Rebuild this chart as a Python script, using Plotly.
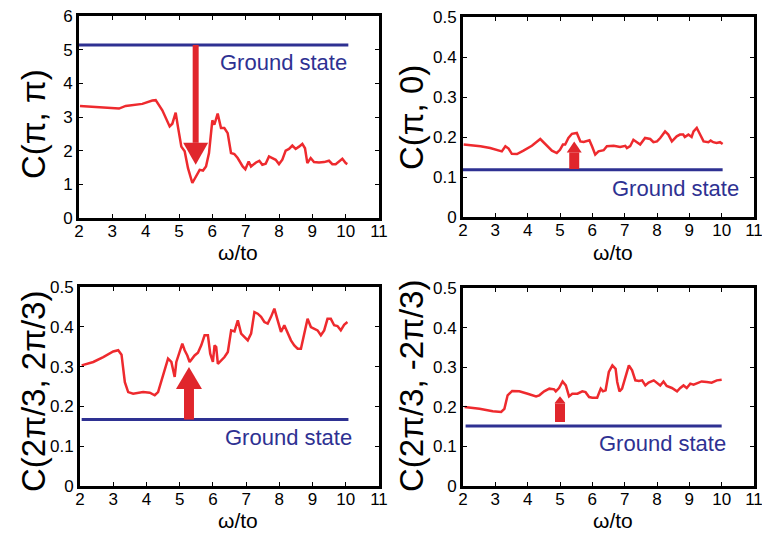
import plotly.graph_objects as go

# ---------------- data ----------------
w1 = [2.03, 2.5, 3.0, 3.2, 3.4, 3.6, 3.9, 4.2, 4.3, 4.5, 4.72, 4.8, 4.9, 4.97, 5.07, 5.17, 5.27, 5.4,
      5.52, 5.62, 5.72, 5.81, 5.9, 6.0, 6.06, 6.16, 6.26, 6.36, 6.46, 6.56, 6.66, 6.76, 6.91, 6.99,
      7.09, 7.16, 7.31, 7.41, 7.5, 7.6, 7.7, 7.8, 7.9, 8.0, 8.1, 8.2, 8.3, 8.4, 8.5, 8.6, 8.7, 8.78,
      8.85, 8.95, 9.05, 9.2, 9.35, 9.5, 9.6, 9.7, 9.8, 9.9, 10.0, 10.05]
c1 = [3.33, 3.3, 3.26, 3.25, 3.33, 3.35, 3.39, 3.49, 3.5, 3.2, 2.72, 2.8, 3.13, 2.7, 2.12, 1.98, 1.48, 1.04,
      1.24, 1.43, 1.41, 1.53, 1.93, 2.9, 2.77, 3.1, 2.67, 2.67, 2.52, 1.93, 1.9, 1.78, 1.53, 1.45,
      1.68, 1.53, 1.65, 1.7, 1.58, 1.61, 1.83, 1.77, 1.73, 1.6, 1.73, 2.0, 2.05, 2.15, 2.05, 2.12, 2.2, 2.07,
      1.63, 1.78, 1.66, 1.65, 1.66, 1.7, 1.6, 1.6, 1.68, 1.76, 1.63, 1.6]

w2 = [2.02, 2.54, 2.84, 3.15, 3.2, 3.31, 3.41, 3.51, 3.67, 3.87, 4.13, 4.39, 4.6, 4.75, 4.9, 5.0, 5.09,
      5.16, 5.26, 5.37, 5.52, 5.63, 5.73, 5.83, 5.91, 5.99, 6.09, 6.19, 6.35, 6.45, 6.66, 6.86, 7.02,
      7.07, 7.17, 7.27, 7.37, 7.48, 7.63, 7.79, 7.89, 8.0, 8.1, 8.25, 8.35, 8.46, 8.61, 8.71, 8.81,
      8.86, 8.97, 9.02, 9.07, 9.13, 9.23, 9.31, 9.44, 9.59, 9.66, 9.74, 9.84, 9.95, 10.03]
c2 = [0.181, 0.177, 0.1725, 0.166, 0.164, 0.177, 0.171, 0.158, 0.1575, 0.166, 0.178, 0.195, 0.178, 0.166,
      0.16, 0.168, 0.181, 0.181, 0.1975, 0.208, 0.21, 0.189, 0.1875, 0.191, 0.192, 0.177, 0.156, 0.164,
      0.167, 0.177, 0.178, 0.175, 0.178, 0.1725, 0.177, 0.193, 0.187, 0.181, 0.1975, 0.195, 0.187, 0.189,
      0.1975, 0.214, 0.206, 0.189, 0.2017, 0.206, 0.206, 0.2, 0.206, 0.2017, 0.2, 0.214, 0.2225, 0.21,
      0.189, 0.187, 0.191, 0.187, 0.185, 0.187, 0.1825]

w3 = [2.05, 2.4, 2.7, 3.0, 3.15, 3.25, 3.35, 3.45, 3.6, 3.9, 4.1, 4.25, 4.35, 4.5, 4.65, 4.75, 4.85, 4.9,
      5.0, 5.08, 5.15, 5.23, 5.3, 5.38, 5.45, 5.55, 5.65, 5.75, 5.85, 5.92, 6.0, 6.05, 6.1, 6.15, 6.25,
      6.35, 6.45, 6.55, 6.65, 6.75, 6.85, 6.95, 7.05, 7.15, 7.25, 7.35, 7.45, 7.55, 7.65, 7.75, 7.85,
      7.95, 8.05, 8.15, 8.25, 8.35, 8.45, 8.55, 8.65, 8.75, 8.85, 8.95, 9.05, 9.15, 9.25, 9.35, 9.45,
      9.55, 9.65, 9.75, 9.85, 9.95, 10.05]
c3 = [0.303, 0.3116, 0.324, 0.338, 0.341, 0.33, 0.261, 0.236, 0.232, 0.236, 0.2345, 0.228, 0.236, 0.278,
      0.32, 0.3116, 0.274, 0.3116, 0.341, 0.3576, 0.341, 0.328, 0.3116, 0.32, 0.328, 0.335, 0.3534,
      0.3786, 0.3786, 0.3325, 0.3116, 0.3534, 0.349, 0.307, 0.3157, 0.324, 0.3367, 0.391, 0.3886, 0.416,
      0.383, 0.374, 0.366, 0.383, 0.437, 0.433, 0.425, 0.412, 0.408, 0.425, 0.4456, 0.416, 0.387, 0.404,
      0.383, 0.366, 0.3534, 0.345, 0.345, 0.3786, 0.42, 0.3995, 0.395, 0.391, 0.3786, 0.391, 0.42, 0.42,
      0.404, 0.402, 0.391, 0.405, 0.412]

w4 = [2.05, 2.51, 2.92, 3.18, 3.28, 3.38, 3.52, 3.74, 4.0, 4.26, 4.36, 4.51, 4.67, 4.82, 4.87, 4.97, 5.08,
      5.18, 5.28, 5.38, 5.54, 5.69, 5.79, 5.9, 6.0, 6.15, 6.26, 6.33, 6.41, 6.51, 6.62, 6.72, 6.77, 6.84,
      6.92, 7.03, 7.13, 7.23, 7.33, 7.44, 7.54, 7.64, 7.74, 7.9, 8.0, 8.1, 8.2, 8.3, 8.46, 8.62, 8.72,
      8.82, 8.92, 9.03, 9.13, 9.23, 9.38, 9.54, 9.69, 9.85, 10.0]
c4 = [0.1995, 0.195, 0.189, 0.187, 0.195, 0.229, 0.24, 0.239, 0.233, 0.2264, 0.229, 0.239, 0.2458, 0.244,
      0.239, 0.2475, 0.264, 0.254, 0.2264, 0.233, 0.233, 0.239, 0.237, 0.2247, 0.223, 0.223, 0.2458, 0.239,
      0.2416, 0.288, 0.3047, 0.296, 0.2626, 0.239, 0.2458, 0.275, 0.3047, 0.292, 0.2668, 0.265, 0.2668,
      0.254, 0.261, 0.2668, 0.261, 0.254, 0.264, 0.2525, 0.2475, 0.239, 0.2475, 0.254, 0.2475, 0.2584,
      0.256, 0.26, 0.264, 0.2626, 0.261, 0.2668, 0.2685]

ground_state = [5.14, 0.118, 0.167, 0.1515]
ground_x0 = [2.0, 2.0, 2.05, 2.08]
ground_x1 = [10.08, 10.03, 10.08, 10.0]

arrow_x = [5.5, 5.44, 5.28, 5.0]
arrow_from = [5.14, 0.12, 0.167, 0.1616]
arrow_to = [1.58, 0.189, 0.299, 0.2264]

y_titles = ["C(π, π)", "C(π, 0)", "C(2π/3, 2π/3)", "C(2π/3, -2π/3)"]
y_ranges = [[0, 6], [0, 0.5], [0, 0.5], [0, 0.5]]
y_dticks = [1, 0.1, 0.1, 0.1]
x_title = "ω/to"
gs_label = "Ground state"

W, H = 762, 535
RED = "#ee2a2e"
ARROW = "#e0262c"
NAVY = "#2e3192"
FONT = "Liberation Sans, Arial, sans-serif"

# panel plot areas in pixels (left, right, top, bottom)
boxes = [(79, 379, 16, 218), (463, 754, 17, 217), (80, 379, 287, 486), (463, 754, 288, 486)]
# arrow style (shaft px, head width px, head length px)
arrow_style = [(6, 25, 22), (10, 15, 11), (10, 26, 22), (10, 11, 7)]
# label positions (pixels)
gs_pos = [(283, 62), (675, 188), (288, 437), (662, 443)]
ytitle_pos = [(33, 124), (412, 118), (33, 392), (411, 386)]
xtitle_pos = [(238, 252), (613, 252), (238, 520), (613, 520)]

series = [(w1, c1), (w2, c2), (w3, c3), (w4, c4)]

fig = go.Figure()
shapes = []
annotations = []
layout = {}
for i, (box, (wx, cy)) in enumerate(zip(boxes, series)):
    l, r, t, b = box
    xa = "xaxis" if i == 0 else f"xaxis{i+1}"
    ya = "yaxis" if i == 0 else f"yaxis{i+1}"
    xr = "x" if i == 0 else f"x{i+1}"
    yr = "y" if i == 0 else f"y{i+1}"
    axcommon = dict(showline=True, linewidth=3, linecolor="black", mirror="ticks",
                    ticks="inside", ticklen=4, tickwidth=1.2, tickcolor="black",
                    showgrid=False, zeroline=False, automargin=False,
                    ticklabeloverflow="allow",
                    tickfont=dict(family=FONT, size=17, color="black"))
    layout[xa] = dict(domain=[l / W, r / W], range=[2, 11], dtick=1, tick0=2,
                      anchor=yr, ticklabelstandoff=-4, **axcommon)
    layout[ya] = dict(domain=[1 - b / H, 1 - t / H], range=y_ranges[i], dtick=y_dticks[i],
                      anchor=xr, **axcommon)

    # ground state line
    fig.add_trace(go.Scatter(x=[ground_x0[i], ground_x1[i]], y=[ground_state[i]] * 2,
                             mode="lines", line=dict(color=NAVY, width=3),
                             xaxis=xr, yaxis=yr, showlegend=False, hoverinfo="skip"))

    # arrow
    shaft, hw, hl = arrow_style[i]
    xunit = (11 - 2) / (r - l)
    yunit = (y_ranges[i][1] - y_ranges[i][0]) / (b - t)
    direction = 1 if arrow_to[i] > arrow_from[i] else -1
    head_base = arrow_to[i] - direction * hl * yunit
    shapes.append(dict(type="line", xref=xr, yref=yr, x0=arrow_x[i], x1=arrow_x[i],
                       y0=arrow_from[i], y1=head_base, line=dict(color=ARROW, width=shaft),
                       layer="above"))
    xl = arrow_x[i] - hw / 2 * xunit
    xrr = arrow_x[i] + hw / 2 * xunit
    shapes.append(dict(type="path", xref=xr, yref=yr,
                       path=f"M {xl} {head_base} L {xrr} {head_base} L {arrow_x[i]} {arrow_to[i]} Z",
                       fillcolor=ARROW, line=dict(color=ARROW, width=0), layer="above"))

    # data line
    fig.add_trace(go.Scatter(x=wx, y=cy, mode="lines", line=dict(color=RED, width=2.5),
                             xaxis=xr, yaxis=yr, showlegend=False))

    # labels
    gx, gy = gs_pos[i]
    annotations.append(dict(text=gs_label, xref="paper", yref="paper", x=gx / W, y=1 - gy / H,
                            showarrow=False, xanchor="center", yanchor="middle",
                            font=dict(family=FONT, size=22, color=NAVY)))
    tx, ty = ytitle_pos[i]
    annotations.append(dict(text=y_titles[i], xref="paper", yref="paper", x=tx / W, y=1 - ty / H,
                            showarrow=False, textangle=-90, xanchor="center", yanchor="middle",
                            font=dict(family=FONT, size=33, color="black")))
    xx, xy = xtitle_pos[i]
    annotations.append(dict(text=x_title, xref="paper", yref="paper", x=xx / W, y=1 - xy / H,
                            showarrow=False, xanchor="center", yanchor="middle",
                            font=dict(family=FONT, size=21, color="black")))

fig.update_layout(width=W, height=H, margin=dict(l=0, r=0, t=0, b=0, autoexpand=False),
                  paper_bgcolor="white", plot_bgcolor="white",
                  shapes=shapes, annotations=annotations, **layout)

fig.write_html("out.html")
